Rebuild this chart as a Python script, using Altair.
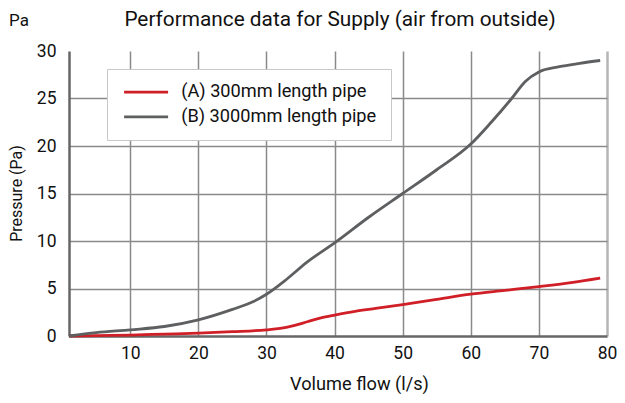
import altair as alt
import pandas as pd

# Series A: (A) 300mm length pipe
flow_a = [1, 5, 10, 15, 20, 25, 30, 32, 34, 36, 38, 40, 43, 46, 50, 55, 60, 65, 70, 75, 79]
pres_a = [0.0, 0.05, 0.1, 0.2, 0.3, 0.45, 0.65, 0.8, 1.1, 1.5, 1.9, 2.2, 2.6, 2.9, 3.3, 3.85, 4.4, 4.8, 5.2, 5.65, 6.1]

# Series B: (B) 3000mm length pipe
flow_b = [1, 5, 10, 15, 20, 25, 28, 30, 33, 36, 40, 45, 50, 55, 60, 63, 66, 68, 70, 73, 76, 79]
pres_b = [0.0, 0.35, 0.65, 1.0, 1.7, 2.8, 3.6, 4.4, 6.0, 7.8, 9.8, 12.5, 15.0, 17.5, 20.2, 22.5, 25.0, 26.8, 27.8, 28.35, 28.7, 29.0]

series_names = ["(A) 300mm length pipe", "(B) 3000mm length pipe"]
series_colors = ["#d01f26", "#5e5f61"]

x_ticks = [10, 20, 30, 40, 50, 60, 70, 80]
y_ticks = [0, 5, 10, 15, 20, 25, 30]

chart_title = ["Performance data for Supply (air from outside)"]
unit_label = ["Pa"]

rows = []
for f, p in zip(flow_a, pres_a):
    rows.append({"flow": f, "pressure": p, "series": series_names[0]})
for f, p in zip(flow_b, pres_b):
    rows.append({"flow": f, "pressure": p, "series": series_names[1]})
df = pd.DataFrame(rows)

FONT = "Roboto"
W, H = 538, 285

lines = alt.Chart(df).mark_line(interpolate="monotone", strokeWidth=2.8).encode(
    x=alt.X("flow:Q",
            scale=alt.Scale(domain=[1, 80], nice=False, zero=False),
            axis=alt.Axis(values=x_ticks, title="Volume flow (l/s)",
                          ticks=False, labelPadding=8, labelFontSize=17.5,
                          labelFlush=False,
                          labelColor="#111", labelFont=FONT,
                          domainColor="#666", domainWidth=2.5,
                          grid=True,
                          gridColor={"condition": {"test": "datum.value == 80", "value": "#b5b5b5"}, "value": "#8a8a8a"},
                          gridWidth={"condition": {"test": "datum.value == 80", "value": 2.5}, "value": 1.5},
                          titleFont=FONT, titleFontSize=18.2, titleFontWeight="normal",
                          titleColor="#111", titleX=290, titleY=48.5,
                          titleBaseline="middle", titleAlign="center")),
    y=alt.Y("pressure:Q",
            scale=alt.Scale(domain=[0, 30], nice=False),
            axis=alt.Axis(values=y_ticks, title="Pressure (Pa)",
                          ticks=False, labelPadding=13, labelFontSize=17.5,
                          labelColor="#111", labelFont=FONT,
                          domainColor="#666", domainWidth=2.5,
                          grid=True,
                          gridColor={"condition": {"test": "datum.value == 30 || datum.value == 0", "value": "transparent"}, "value": "#8a8a8a"},
                          gridWidth=1.5,
                          titleFont=FONT, titleFontSize=16, titleFontWeight="normal",
                          titleColor="#111", titleX=-53, titleY=142,
                          titleAngle=-90, titleBaseline="middle", titleAlign="center")),
    color=alt.Color("series:N",
                    scale=alt.Scale(domain=series_names, range=series_colors),
                    legend=alt.Legend(title=None, orient="none", legendX=38, legendY=18,
                                      fillColor="white", strokeColor="#c8c8c8",
                                      padding=14, symbolType="M-3,0H3",
                                      symbolSize=215, symbolStrokeWidth=2.8,
                                      symbolOffset=16,
                                      labelFontSize=18.2, labelFont=FONT, labelColor="#111",
                                      labelOffset=26, rowPadding=5.8,
                                      labelLimit=400)),
)

title_mark = alt.Chart(pd.DataFrame({"t": chart_title})).mark_text(
    fontSize=20.8, font=FONT, color="#111", align="center", baseline="middle"
).encode(text="t:N", x=alt.value(271), y=alt.value(-31))

pa = alt.Chart(pd.DataFrame({"t": unit_label})).mark_text(
    fontSize=17, font=FONT, color="#111", align="center", baseline="middle"
).encode(text="t:N", x=alt.value(-50), y=alt.value(-30))

chart = alt.layer(lines, title_mark, pa).properties(
    width=W, height=H,
    autosize=alt.AutoSizeParams(type="none"),
    padding={"left": 61, "top": 43, "right": 10, "bottom": 59},
).configure_view(stroke=None)

chart.save("out.html", embed_options={"renderer": "svg", "actions": False})
